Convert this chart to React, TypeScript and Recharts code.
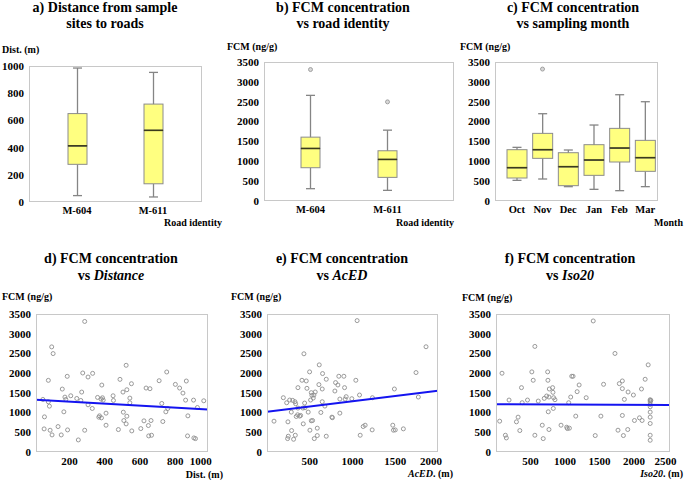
import { Bar, ComposedChart, Scatter, ScatterChart, XAxis, YAxis } from 'recharts';

const FONT = "'Liberation Serif', 'Times New Roman', serif";

// a) distance from sample sites to roads (m)
const roads = ['M-604', 'M-611'];
const distMin = [47, 37];
const distQ1 = [277, 134];
const distMed = [413, 527];
const distQ3 = [650, 720];
const distMax = [985, 953];
const distTicks = [0, 200, 400, 600, 800, 1000];

// b) FCM (ng/g) by road
const roadMin = [310, 268];
const roadQ1 = [838, 595];
const roadMed = [1323, 1047];
const roadQ3 = [1608, 1265];
const roadMax = [2660, 1784];
const roadOutName = ['M-604', 'M-611'];
const roadOutVal = [3310, 2496];

// c) FCM (ng/g) by sampling month
const months = ['Oct', 'Nov', 'Dec', 'Jan', 'Feb', 'Mar'];
const monthMin = [520, 554, 361, 294, 260, 361];
const monthQ1 = [579, 1074, 386, 646, 982, 747];
const monthMed = [839, 1292, 864, 1032, 1334, 1091];
const monthQ3 = [1292, 1703, 1216, 1418, 1829, 1527];
const monthMax = [1351, 2198, 1284, 1913, 2676, 2500];
const monthOutName = ['Nov'];
const monthOutVal = [3322];

const fcmTicks = [0, 500, 1000, 1500, 2000, 2500, 3000, 3500];

// d) FCM vs distance
const distX = [49, 58, 56, 80, 80, 86, 90, 99, 101, 107, 135, 153, 159, 168, 174, 179, 187, 189, 207, 241,
  250, 264, 269, 275, 286, 286, 305, 305, 329, 331, 359, 366, 370, 379, 383, 387, 391, 381, 407, 407,
  447, 449, 477, 486, 503, 505, 508, 521, 521, 525, 525, 542, 542, 551, 553, 622, 604, 634, 647, 649,
  656, 662, 665, 708, 723, 729, 746, 751, 757, 800, 824, 843, 858, 862, 869, 871, 903, 905, 914, 925, 961];
const distY = [1333, 891, 586, 1817, 1273, 1163, 552, 2666, 433, 2496, 645, 433, 1596, 1019, 1392, 1333, 1919, 560, 1426, 1358,
  306, 1307, 1520, 2004, 3311, 552, 1902, 1197, 1104, 1995, 1384, 883, 917, 1341, 1698, 1375, 1316, 866, 679, 985,
  1426, 1307, 569, 1842, 1520, 1010, 798, 713, 2199, 908, 1579, 1367, 1248, 1732, 535, 790, 594, 1622, 671, 408,
  1605, 798, 425, 1808, 1231, 773, 1019, 2029, 1104, 1715, 1622, 1494, 1316, 1800, 408, 917, 1316, 357, 340, 1129, 1299];
const distFitX = [10, 985];
const distFitY = [1324, 1078];
const distXTicks = [200, 400, 600, 800, 1000];

// e) FCM vs AcED
const acedX = [82, 191, 230, 241, 249, 245, 265, 288, 284, 300, 311, 327, 331, 335, 342, 358, 362, 362, 381, 393,
  409, 420, 424, 432, 440, 444, 459, 467, 482, 502, 498, 510, 518, 518, 525, 533, 541, 549, 553, 564,
  588, 588, 607, 611, 630, 646, 646, 650, 677, 693, 693, 759, 765, 794, 802, 829, 840, 852, 852, 899,
  907, 914, 926, 992, 1039, 1054, 1082, 1090, 1125, 1148, 1230, 1233, 1471, 1479, 1490, 1500, 1595, 1743, 1770, 1860];
const acedY = [782, 1377, 1249, 340, 400, 765, 1318, 544, 1012, 1309, 323, 1275, 425, 1224, 901, 944, 1114, 1632, 910, 927,
  1819, 1114, 714, 2491, 1241, 1122, 1802, 1615, 1012, 553, 2032, 1318, 791, 1505, 1437, 799, 1369, 1445, 340, 1522,
  417, 604, 1709, 2210, 1003, 1598, 1275, 1989, 1165, 400, 1845, 884, 870, 1547, 1760, 1700, 1921, 1343, 986, 1921,
  1632, 1343, 1403, 1352, 1819, 3332, 1445, 425, 646, 680, 561, 1377, 680, 553, 1598, 560, 587, 2015, 1394, 2669];
const acedFitX = [0, 2000];
const acedFitY = [1020, 1556];
const acedXTicks = [500, 1000, 1500, 2000];

// f) FCM vs Iso20
const isoX = [53, 87, 136, 150, 189, 296, 320, 345, 369, 379, 456, 519, 539, 563, 563, 612, 670, 684, 699, 733,
  748, 752, 757, 767, 767, 772, 820, 825, 830, 835, 854, 942, 1024, 1034, 1053, 1063, 1082, 1097, 1116, 1155,
  1175, 1204, 1306, 1408, 1437, 1519, 1558, 1723, 1767, 1786, 1830, 1830, 1830, 1845, 1859, 1908, 1913, 1990, 2005, 2078,
  2107, 2116, 2160, 2204, 2233, 2233, 2233, 2233, 2233, 2233, 2233, 2233, 2233, 2233, 2243];
const isoY = [782, 1998, 425, 357, 1318, 765, 884, 544, 1632, 1250, 1318, 2032, 1819, 2678, 425, 1292, 680, 340, 1360, 1420,
  2032, 1819, 1020, 1394, 570, 1598, 1632, 1513, 1105, 1377, 1326, 680, 629, 595, 1250, 604, 1394, 1921, 1921, 910,
  1530, 1700, 1377, 3324, 417, 910, 1717, 2499, 553, 1734, 1802, 1607, 927, 417, 1335, 570, 1522, 1445, 799, 867,
  1598, 799, 1845, 2210, 1326, 1301, 1267, 1207, 1148, 1012, 884, 723, 425, 298, 1309];
const isoFitX = [0, 2520];
const isoFitY = [1210, 1190];
const isoXTicks = [500, 1000, 1500, 2000, 2500];

type Plot = { x0: number; x1: number; y0: number; y1: number };

const YW = 34;
const TOP = 8;
const RIGHT = 16;
const XH = 24;

const tickText = { fill: '#000', fontSize: 11, fontWeight: 'bold', fontFamily: FONT };
const cateText = { fill: '#000', fontSize: 10.5, fontWeight: 'bold', fontFamily: FONT };

function boxRows(names: string[], min: number[], q1: number[], med: number[], q3: number[], max: number[]) {
  return names.map((name, i) => ({
    name,
    base: min[i],
    lowW: q1[i] - min[i],
    lowBox: med[i] - q1[i],
    highBox: q3[i] - med[i],
    highW: max[i] - q3[i],
  }));
}

const WHISK = '#858585';

function LowWhisker(p: any) {
  const cx = p.x + p.width / 2;
  return (
    <g>
      <line x1={cx} x2={cx} y1={p.y} y2={p.y + p.height} stroke={WHISK} strokeWidth={1.3} />
      <line x1={cx - 4.5} x2={cx + 4.5} y1={p.y + p.height} y2={p.y + p.height} stroke={WHISK} strokeWidth={1.3} />
    </g>
  );
}

function HighWhisker(p: any) {
  const cx = p.x + p.width / 2;
  return (
    <g>
      <line x1={cx} x2={cx} y1={p.y} y2={p.y + p.height} stroke={WHISK} strokeWidth={1.3} />
      <line x1={cx - 4.5} x2={cx + 4.5} y1={p.y} y2={p.y} stroke={WHISK} strokeWidth={1.3} />
    </g>
  );
}

function LowBox(p: any) {
  return <rect x={p.x} y={p.y} width={p.width} height={p.height} fill="#ffff80" stroke="#8c8c8c" strokeWidth={1} />;
}

function HighBox(p: any) {
  return (
    <g>
      <rect x={p.x} y={p.y} width={p.width} height={p.height} fill="#ffff80" stroke="#8c8c8c" strokeWidth={1} />
      <line x1={p.x} x2={p.x + p.width} y1={p.y + p.height} y2={p.y + p.height} stroke="#3a3a1c" strokeWidth={1.6} />
    </g>
  );
}

function Ring(p: any) {
  return <circle cx={p.cx} cy={p.cy} r={2} fill="none" stroke="#8f8f8f" strokeWidth={0.9} />;
}

function OutDot(p: any) {
  return <circle cx={p.cx} cy={p.cy} r={2} fill="#d8d8d8" stroke="#9a9a9a" strokeWidth={0.9} />;
}

function NoDot() {
  return <g />;
}

function Frame({ plot }: { plot: Plot }) {
  return (
    <div
      style={{
        position: 'absolute',
        left: YW,
        top: TOP,
        width: plot.x1 - plot.x0,
        height: plot.y1 - plot.y0,
        border: '1px solid #c8c8c8',
        boxSizing: 'border-box',
        pointerEvents: 'none',
      }}
    />
  );
}

function BoxPanel({
  rows,
  outliers,
  plot,
  yMax,
  yTicks,
  barSize,
  padding,
}: {
  rows: any[];
  outliers: { name: string; v: number }[];
  plot: Plot;
  yMax: number;
  yTicks: number[];
  barSize: number;
  padding: { left: number; right: number };
}) {
  const width = plot.x1 - plot.x0 + YW + RIGHT;
  const height = plot.y1 - plot.y0 + TOP + XH;
  return (
    <div style={{ position: 'absolute', left: plot.x0 - YW, top: plot.y0 - TOP, width, height }}>
      <ComposedChart width={width} height={height} data={rows} margin={{ top: TOP, right: RIGHT, bottom: 0, left: 0 }}>
        <XAxis
          dataKey="name"
          type="category"
          allowDuplicatedCategory={false}
          padding={padding}
          axisLine={false}
          tickLine={false}
          tickSize={3}
          tickMargin={2}
          height={XH}
          interval={0}
          tick={cateText}
        />
        <YAxis
          type="number"
          domain={[0, yMax]}
          ticks={yTicks}
          interval={0}
          width={YW}
          axisLine={false}
          tickLine={false}
          tickSize={3}
          tickMargin={2}
          tick={tickText}
        />
        <Bar dataKey="base" stackId="box" barSize={barSize} shape={NoDot} isAnimationActive={false} />
        <Bar dataKey="lowW" stackId="box" barSize={barSize} shape={LowWhisker} isAnimationActive={false} />
        <Bar dataKey="lowBox" stackId="box" barSize={barSize} shape={LowBox} isAnimationActive={false} />
        <Bar dataKey="highBox" stackId="box" barSize={barSize} shape={HighBox} isAnimationActive={false} />
        <Bar dataKey="highW" stackId="box" barSize={barSize} shape={HighWhisker} isAnimationActive={false} />
        {outliers.length > 0 && (
          <Scatter data={outliers} dataKey="v" shape={OutDot} isAnimationActive={false} />
        )}
      </ComposedChart>
      <Frame plot={plot} />
    </div>
  );
}

function ScatterPanel({
  xs,
  ys,
  fitX,
  fitY,
  plot,
  xDomain,
  xTicks,
  lastShift,
}: {
  xs: number[];
  ys: number[];
  fitX: number[];
  fitY: number[];
  plot: Plot;
  xDomain: [number, number];
  xTicks: number[];
  lastShift: number;
}) {
  const width = plot.x1 - plot.x0 + YW + RIGHT;
  const height = plot.y1 - plot.y0 + TOP + XH;
  const points = xs.map((x, i) => ({ x, y: ys[i] }));
  const fit = fitX.map((x, i) => ({ x, y: fitY[i] }));
  const lastTick = xTicks[xTicks.length - 1];
  const renderTick = (p: any) => (
    <text
      x={p.x + (p.payload.value === lastTick ? lastShift : 0)}
      y={p.y}
      dy="0.71em"
      textAnchor="middle"
      {...tickText}
    >
      {p.payload.value}
    </text>
  );
  return (
    <div style={{ position: 'absolute', left: plot.x0 - YW, top: plot.y0 - TOP, width, height }}>
      <ScatterChart width={width} height={height} margin={{ top: TOP, right: RIGHT, bottom: 0, left: 0 }}>
        <XAxis
          type="number"
          dataKey="x"
          domain={xDomain}
          ticks={xTicks}
          interval={0}
          allowDataOverflow
          axisLine={false}
          tickLine={false}
          tickSize={3}
          tickMargin={2}
          height={XH}
          tick={renderTick}
        />
        <YAxis
          type="number"
          dataKey="y"
          domain={[0, 3500]}
          ticks={fcmTicks}
          interval={0}
          width={YW}
          axisLine={false}
          tickLine={false}
          tickSize={3}
          tickMargin={2}
          tick={tickText}
        />
        <Scatter data={points} shape={Ring} isAnimationActive={false} />
        <Scatter
          data={fit}
          shape={NoDot}
          line={{ stroke: '#1414f0', strokeWidth: 2 }}
          isAnimationActive={false}
        />
      </ScatterChart>
      <Frame plot={plot} />
    </div>
  );
}

const titleStyle = { fontFamily: FONT, fontSize: 14, fontWeight: 'bold' as const, fill: '#000' };
const labelStyle = { fontFamily: FONT, fontSize: 10, fontWeight: 'bold' as const, fill: '#000' };

function Labels() {
  return (
    <svg width={685} height={480} style={{ position: 'absolute', left: 0, top: 0, pointerEvents: 'none' }}>
      <g textAnchor="middle" {...titleStyle}>
        <text x={105} y={11.7}>a) Distance from sample</text>
        <text x={105} y={28.3}>sites to roads</text>
        <text x={343} y={11.7}>b) FCM concentration</text>
        <text x={343} y={28.3}>vs road identity</text>
        <text x={573} y={11.7}>c) FCM concentration</text>
        <text x={573} y={28.3}>vs sampling month</text>
        <text x={111} y={263.3}>d) FCM concentration</text>
        <text x={111} y={279.5}>
          vs <tspan fontStyle="italic">Distance</tspan>
        </text>
        <text x={342} y={263.3}>e) FCM concentration</text>
        <text x={342} y={279.5}>
          vs <tspan fontStyle="italic">AcED</tspan>
        </text>
        <text x={570} y={263.3}>f) FCM concentration</text>
        <text x={570} y={279.5}>
          vs <tspan fontStyle="italic">Iso20</tspan>
        </text>
      </g>
      <g {...labelStyle}>
        <text x={2} y={53}>Dist. (m)</text>
        <text x={227} y={50}>FCM (ng/g)</text>
        <text x={460} y={50}>FCM (ng/g)</text>
        <text x={2} y={300}>FCM (ng/g)</text>
        <text x={231} y={300}>FCM (ng/g)</text>
        <text x={462} y={301}>FCM (ng/g)</text>
      </g>
      <g textAnchor="end" {...labelStyle}>
        <text x={222} y={226}>Road identity</text>
        <text x={454} y={226}>Road identity</text>
        <text x={683} y={226}>Month</text>
        <text x={223} y={478}>Dist. (m)</text>
        <text x={453} y={477}>
          <tspan fontStyle="italic">AcED</tspan>. (m)
        </text>
        <text x={683} y={477}>
          <tspan fontStyle="italic">Iso20</tspan>. (m)
        </text>
      </g>
    </svg>
  );
}

export default function App() {
  const aRows = boxRows(roads, distMin, distQ1, distMed, distQ3, distMax);
  const bRows = boxRows(roads, roadMin, roadQ1, roadMed, roadQ3, roadMax);
  const cRows = boxRows(months, monthMin, monthQ1, monthMed, monthQ3, monthMax);
  const bOut = roadOutName.map((name, i) => ({ name, v: roadOutVal[i] }));
  const cOut = monthOutName.map((name, i) => ({ name, v: monthOutVal[i] }));
  return (
    <div
      style={{
        position: 'absolute',
        left: 0,
        top: 0,
        width: 685,
        height: 480,
        background: '#fff',
        fontFamily: FONT,
        overflow: 'hidden',
      }}
    >
      <BoxPanel
        rows={aRows}
        outliers={[]}
        plot={{ x0: 29, x1: 202, y0: 66, y1: 202 }}
        yMax={1000}
        yTicks={distTicks}
        barSize={19}
        padding={{ left: 10, right: 11 }}
      />
      <BoxPanel
        rows={bRows}
        outliers={bOut}
        plot={{ x0: 264, x1: 454, y0: 62, y1: 201 }}
        yMax={3500}
        yTicks={fcmTicks}
        barSize={19}
        padding={{ left: 8, right: 28 }}
      />
      <BoxPanel
        rows={cRows}
        outliers={cOut}
        plot={{ x0: 495, x1: 658, y0: 62, y1: 201 }}
        yMax={3500}
        yTicks={fcmTicks}
        barSize={20}
        padding={{ left: 9, right: 0 }}
      />
      <ScatterPanel
        xs={distX}
        ys={distY}
        fitX={distFitX}
        fitY={distFitY}
        plot={{ x0: 36, x1: 208, y0: 314, y1: 452 }}
        xDomain={[10, 985]}
        xTicks={distXTicks}
        lastShift={-10}
      />
      <ScatterPanel
        xs={acedX}
        ys={acedY}
        fitX={acedFitX}
        fitY={acedFitY}
        plot={{ x0: 267, x1: 438, y0: 314, y1: 452 }}
        xDomain={[0, 2000]}
        xTicks={acedXTicks}
        lastShift={-7}
      />
      <ScatterPanel
        xs={isoX}
        ys={isoY}
        fitX={isoFitX}
        fitY={isoFitY}
        plot={{ x0: 496, x1: 670, y0: 314, y1: 452 }}
        xDomain={[0, 2520]}
        xTicks={isoXTicks}
        lastShift={-3}
      />
      <Labels />
    </div>
  );
}
